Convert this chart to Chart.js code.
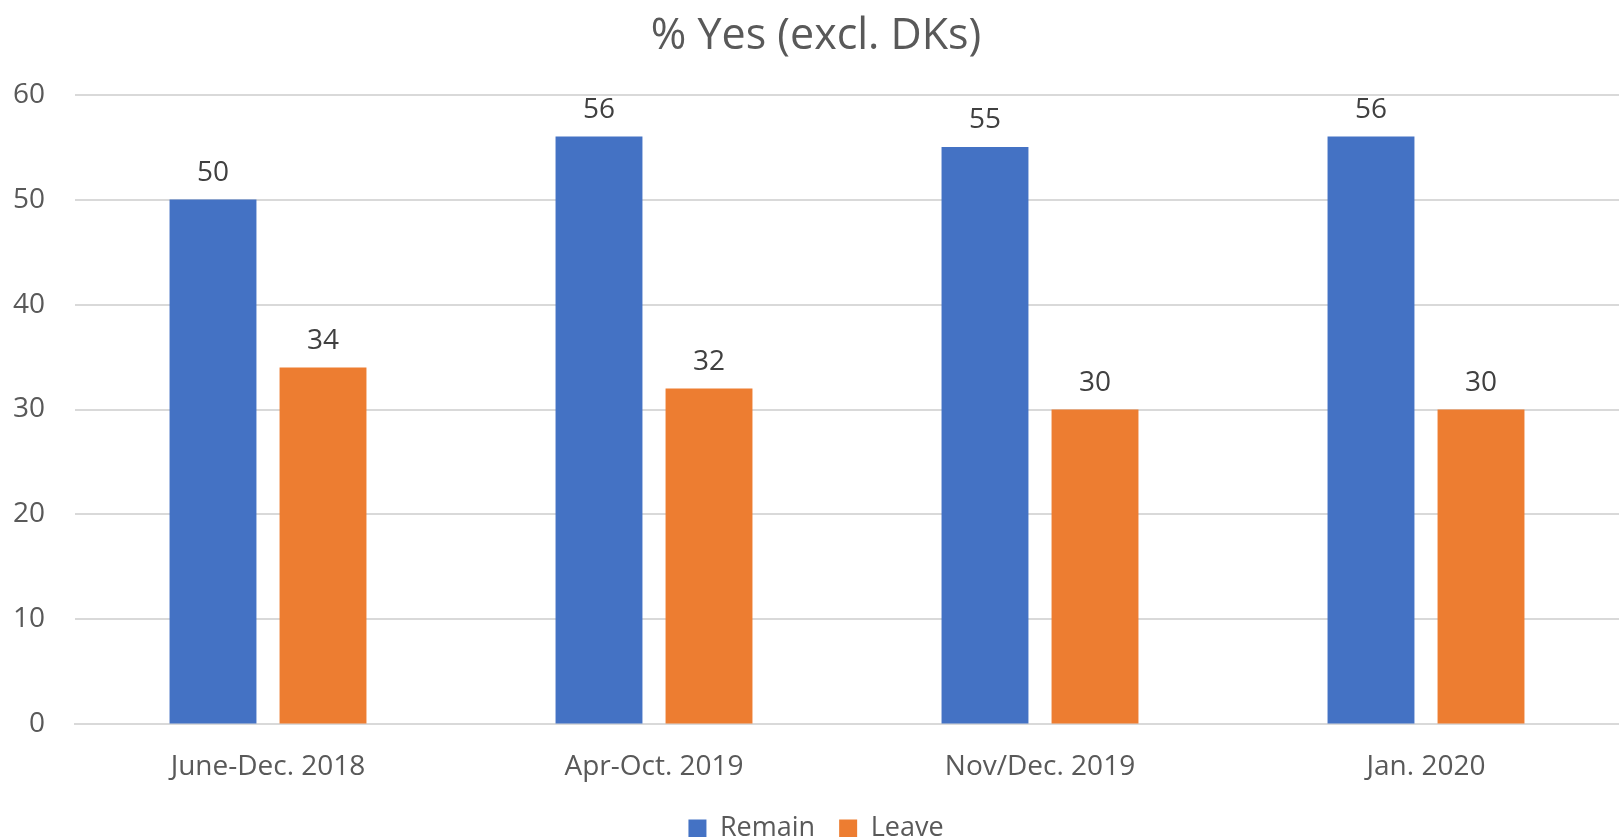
<!DOCTYPE html>
<html>
<head>
<meta charset="utf-8">
<title>% Yes (excl. DKs)</title>
<script src="https://cdn.jsdelivr.net/npm/chart.js@4.4.1/dist/chart.umd.min.js"></script>
<style>
    html, body { margin: 0; padding: 0; background: #fff; overflow: hidden; }
    #wrap { width: 1619px; height: 852px; position: relative; }
</style>
</head>
<body>
<div id="wrap"><canvas id="yesChart"></canvas></div>
<script>
const periods = ['June-Dec. 2018', 'Apr-Oct. 2019', 'Nov/Dec. 2019', 'Jan. 2020'];
const remainValues = [50, 56, 55, 56];
const leaveValues = [34, 32, 30, 30];
const yTicks = [0, 10, 20, 30, 40, 50, 60];

// draws the number over each bar
const barValues = {
    id: 'barValues',
    afterDatasetsDraw(chart){
        let ctx = chart.ctx;
        ctx.save();
        ctx.font = '28px "Open Sans"';
        ctx.fillStyle = '#404040';
        ctx.textAlign = 'center';
        ctx.textBaseline = 'alphabetic';
        chart.data.datasets.forEach((ds, i) => {
            chart.getDatasetMeta(i).data.forEach((bar, j) => {
                ctx.fillText(ds.data[j], bar.x, bar.y - 19);
            });
        });
        ctx.restore();
    }
};

const yesCanvas =
document.getElementById('yesChart');

new Chart(yesCanvas, {

    type: 'bar',

    data: {
        labels: periods,
        datasets: [{
            label: 'Remain',
            data: remainValues,
            backgroundColor: '#4472C4'
        }, {
            label: 'Leave',
            data: leaveValues,
            backgroundColor: '#ED7D31'
        }]
    },

    options: {
        responsive: true,
        maintainAspectRatio: false,
        animation: false,
        categoryPercentage: 0.57,
        barPercentage: 0.79,
        layout: {
            padding: { left: 13, right: 0, top: 11, bottom: 0 }
        },
        plugins: {
            title: {
                display: true,
                text: '% Yes (excl. DKs)',
                color: '#595959',
                font: { family: 'Open Sans', size: 43, weight: 'normal' },
                padding: { top: 0, bottom: 32 }
            },
            legend: {
                position: 'bottom',
                labels: {
                    color: '#595959',
                    font: { family: 'Open Sans', size: 27 },
                    boxWidth: 18,
                    boxHeight: 18,
                    padding: 24
                }
            },
            tooltip: { enabled: false }
        },
        scales: {
            x: {
                afterFit(axis){
                    axis.height = axis.height - 19;
                },
                grid: { display: false, drawTicks: false },
                border: { color: '#d9d9d9', width: 2 },
                ticks: {
                    color: '#595959',
                    font: { family: 'Open Sans', size: 28 },
                    padding: 26
                }
            },
            y: {
                min: 0,
                max: 60,
                afterBuildTicks(axis){
                    axis.ticks = yTicks.map(v => ({ value: v }));
                },
                afterFit(axis){
                    axis.width = 62;
                },
                grid: { color: '#d9d9d9', lineWidth: 2, drawTicks: false },
                border: { display: false },
                ticks: {
                    color: '#595959',
                    font: { family: 'Open Sans', size: 28 },
                    padding: 30
                }
            }
        }
    },

    plugins: [barValues]
});
</script>
</body>
</html>
